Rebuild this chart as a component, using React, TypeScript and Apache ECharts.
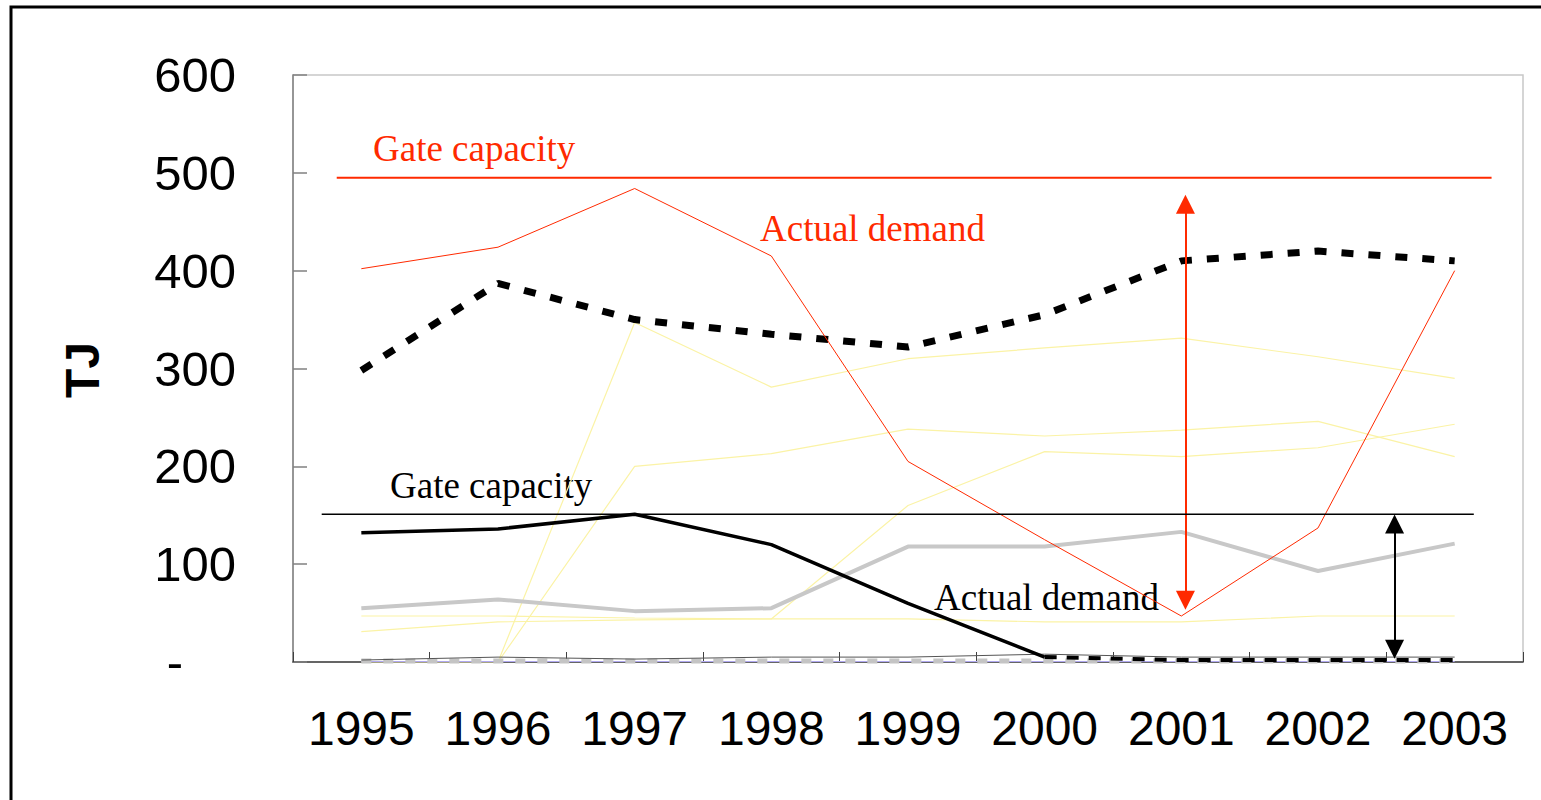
import React, { useEffect, useRef } from "react";
import * as echarts from "echarts";

const years = ["1995", "1996", "1997", "1998", "1999", "2000", "2001", "2002", "2003"];
const yTicks = { min: 0, max: 600, interval: 100 };

const redDemand = [402, 424, 484, 415, 205, 125, 47, 137, 400];
const blackDashedTop = [298, 387, 350, 335, 322, 355, 410, 420, 410];
const yellowA = [0, 0, 347, 281, 310, 321, 331, 312, 290];
const yellowB = [0, 0, 200, 213, 238, 231, 237, 246, 210];
const yellowC = [31, 41, 43, 44, 160, 215, 210, 219, 243];
const yellowD = [47, 47, 45, 44, 44, 41, 41, 47, 47];
const grayDemand = [55, 64, 52, 55, 118, 118, 133, 93, 121];
const blackDemand = [132, 136, 151, 120, 60, 5, null, null, null];
const blackTail = [null, null, null, null, null, 5, 2, 2, 2];
const grayBottom = [1, 1, 1, 1, 1, 1, 1, 1, 1];
const darkThin = [2, 5, 3, 5, 5, 8, 5, 5, 5];
const purpleBottom = [0.5, 0.5, 0.5, 0.5, 0.5, 0.5, 0.5, 0.5, 0.5];

// gate capacity levels and their horizontal extents (category index units)
const redGate = 495;
const redGateRange = [-0.18, 8.27];
const blackGate = 151;
const blackGateRange = [-0.29, 8.14];

// arrows: [x position (category index units), from value, to value]
const redArrow = [6.03, 468, 63];
const blackArrow = [7.56, 141, 13];

const RED = "#ff2a00";
const YELLOW = "#fbf3a6";
const SANS = "Liberation Sans, Arial, sans-serif";
const SERIF = "Liberation Serif, Times New Roman, serif";

export default function App() {
  const ref = useRef<HTMLDivElement>(null);

  useEffect(() => {
    document.body.style.margin = "0";
    const chart = echarts.init(ref.current!, null, { renderer: "svg" });

    const catLine = (name: string, data: any[], color: string, width: number, type: any = "solid", z = 2) => ({
      name,
      type: "line",
      xAxisIndex: 0,
      yAxisIndex: 0,
      data,
      symbol: "none",
      silent: true,
      z,
      lineStyle: { color, width, type, cap: "butt" },
    });

    const option: any = {
      animation: false,
      grid: {
        left: 293,
        top: 75,
        right: 18,
        bottom: 138,
        show: true,
        borderColor: "#c8c8c8",
        borderWidth: 1.5,
        backgroundColor: "transparent",
      },
      xAxis: [
        {
          type: "category",
          data: years,
          boundaryGap: true,
          axisLine: { show: true, onZero: false, lineStyle: { color: "#404040", width: 1.5 } },
          axisTick: { show: true, inside: true, interval: 0, length: 10, lineStyle: { color: "#404040", width: 1 } },
          axisLabel: { fontSize: 48, fontFamily: SANS, color: "#000", margin: 42, interval: 0, hideOverlap: false },
          splitLine: { show: false },
        },
        {
          type: "value",
          min: -0.5,
          max: 8.5,
          show: false,
        },
      ],
      yAxis: {
        type: "value",
        min: yTicks.min,
        max: yTicks.max,
        interval: yTicks.interval,
        axisLine: { show: true, onZero: false, lineStyle: { color: "#808080", width: 1.5 } },
        axisTick: { show: true, inside: true, length: 14, lineStyle: { color: "#808080", width: 1.5 } },
        splitLine: { show: false },
        axisLabel: {
          fontSize: 49,
          fontFamily: SANS,
          color: "#000",
          margin: 57,
          formatter: (v: number) => (v === 0 ? "{z|-}" : String(v)),
          rich: { z: { fontSize: 49, fontFamily: SANS, color: "#000", padding: [0, 53, 0, 0] } },
        },
      },
      series: [
        catLine("yellowA", yellowA, YELLOW, 1.2),
        catLine("yellowB", yellowB, YELLOW, 1.2),
        catLine("yellowC", yellowC, YELLOW, 1.2),
        catLine("yellowD", yellowD, YELLOW, 1.2),
        catLine("purple", purpleBottom, "#b0a8f0", 1.2),
        catLine("grayBottom", grayBottom, "#c4c4c4", 5, [10, 12], 3),
        catLine("darkThin", darkThin, "#555555", 1, "solid", 3),
        catLine("grayDemand", grayDemand, "#c8c8c8", 4, "solid", 3),
        catLine("blackDemand", blackDemand, "#000", 3.5, "solid", 4),
        catLine("blackTail", blackTail, "#000", 4, [12, 10], 4),
        catLine("blackDashedTop", blackDashedTop, "#000", 7, [12, 15], 4),
        catLine("redDemand", redDemand, RED, 1, "solid", 5),
        {
          name: "redGate",
          type: "line",
          xAxisIndex: 1,
          yAxisIndex: 0,
          data: [
            [redGateRange[0], redGate],
            [redGateRange[1], redGate],
          ],
          symbol: "none",
          silent: true,
          z: 5,
          lineStyle: { color: RED, width: 2 },
          markLine: {
            silent: true,
            symbol: ["triangle", "triangle"],
            symbolSize: 19,
            label: { show: false },
            lineStyle: { color: RED, width: 2, type: "solid" },
            itemStyle: { color: RED },
            data: [
              [
                { coord: [redArrow[0], redArrow[1]] },
                { coord: [redArrow[0], redArrow[2]] },
              ],
            ],
          },
        },
        {
          name: "blackGate",
          type: "line",
          xAxisIndex: 1,
          yAxisIndex: 0,
          data: [
            [blackGateRange[0], blackGate],
            [blackGateRange[1], blackGate],
          ],
          symbol: "none",
          silent: true,
          z: 5,
          lineStyle: { color: "#000", width: 1.5 },
          markLine: {
            silent: true,
            symbol: ["triangle", "triangle"],
            symbolSize: 19,
            label: { show: false },
            lineStyle: { color: "#000", width: 2, type: "solid" },
            itemStyle: { color: "#000" },
            data: [
              [
                { coord: [blackArrow[0], blackArrow[1]] },
                { coord: [blackArrow[0], blackArrow[2]] },
              ],
            ],
          },
        },
      ],
      graphic: [
        {
          type: "rect",
          silent: true,
          shape: { x: 11, y: 7, width: 1545, height: 810 },
          style: { fill: "none", stroke: "#000", lineWidth: 3 },
        },
        {
          type: "text",
          x: 82,
          y: 370,
          rotation: Math.PI / 2,
          style: { text: "TJ", font: `bold 48px ${SANS}`, fill: "#000", align: "center", verticalAlign: "middle" },
        },
        {
          type: "text",
          x: 373,
          y: 148,
          style: { text: "Gate capacity", font: `37px ${SERIF}`, fill: RED, align: "left", verticalAlign: "middle" },
        },
        {
          type: "text",
          x: 760,
          y: 228,
          style: { text: "Actual demand", font: `37px ${SERIF}`, fill: RED, align: "left", verticalAlign: "middle" },
        },
        {
          type: "text",
          x: 390,
          y: 485,
          style: { text: "Gate capacity", font: `37px ${SERIF}`, fill: "#000", align: "left", verticalAlign: "middle" },
        },
        {
          type: "text",
          x: 934,
          y: 597,
          style: { text: "Actual demand", font: `37px ${SERIF}`, fill: "#000", align: "left", verticalAlign: "middle" },
        },
      ],
    };

    chart.setOption(option);
    return () => chart.dispose();
  }, []);

  return <div ref={ref} style={{ width: 1541, height: 800 }} />;
}
